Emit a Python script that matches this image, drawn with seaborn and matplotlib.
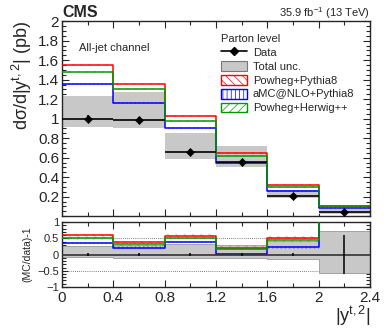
import numpy as np
import matplotlib
matplotlib.use("Agg")
import matplotlib.pyplot as plt
import seaborn as sns
from matplotlib.lines import Line2D
from matplotlib.patches import Patch
from matplotlib.ticker import MultipleLocator, FixedLocator

# bin edges in |y^{t,2}|
edges = [0.0, 0.4, 0.8, 1.2, 1.6, 2.0, 2.4]
x_ticks = [0, 0.4, 0.8, 1.2, 1.6, 2, 2.4]
x_tick_labels = ["0", "0.4", "0.8", "1.2", "1.6", "2", "2.4"]

# top panel: dsigma/d|y| (pb)
data = [1.00, 0.985, 0.66, 0.56, 0.21, 0.042]
data_err = [0.035, 0.035, 0.025, 0.02, 0.012, 0.006]
tot_up = [1.23, 1.27, 0.85, 0.715, 0.265, 0.075]
tot_dn = [0.91, 0.90, 0.59, 0.50, 0.185, 0.018]
powheg_py8 = [1.55, 1.36, 1.03, 0.65, 0.32, 0.105]
amc_py8 = [1.36, 1.16, 0.90, 0.55, 0.26, 0.085]
powheg_hw = [1.475, 1.30, 0.975, 0.62, 0.30, 0.10]

# bottom panel: (MC/data)-1
r_err = [0.035, 0.035, 0.04, 0.035, 0.05, 0.6]
r_tot_up = [0.25, 0.28, 0.33, 0.29, 0.43, 0.72]
r_tot_dn = [-0.08, -0.10, -0.10, -0.10, -0.15, -0.57]
r_powheg_py8 = [0.59, 0.38, 0.58, 0.21, 0.52, 1.3]
r_amc_py8 = [0.36, 0.21, 0.39, 0.02, 0.22, 1.3]
r_powheg_hw = [0.50, 0.31, 0.51, 0.18, 0.44, 1.3]

sns.set_style("ticks")
plt.rcParams["font.family"] = ["Liberation Sans", "DejaVu Sans"]
plt.rcParams["mathtext.fontset"] = "custom"
plt.rcParams["mathtext.rm"] = "Liberation Sans"
plt.rcParams["mathtext.it"] = "Liberation Sans:italic"

edges = np.array(edges)
centers = 0.5 * (edges[:-1] + edges[1:])

red, blue, green, grey = "#ff0000", "#0000ff", "#009900", "#c8c8c8"
models = [
    ("Powheg+Pythia8", powheg_py8, r_powheg_py8, red, "\\\\\\\\"),
    ("aMC@NLO+Pythia8", amc_py8, r_amc_py8, blue, "||||"),
    ("Powheg+Herwig++", powheg_hw, r_powheg_hw, green, "////"),
]

fig = plt.figure(figsize=(3.9, 3.31), dpi=100)
ax = fig.add_axes([0.159, 0.347, 0.79, 0.589])
rax = fig.add_axes([0.159, 0.133, 0.79, 0.196])


def ext(v):
    return np.append(v, v[-1])


def draw_panel(a, vals, err, up, dn, mods, ratio):
    # total uncertainty band
    a.fill_between(edges, ext(dn), ext(up), step="post", facecolor=grey,
                   edgecolor="#9a9a9a" if ratio else "none", lw=0.6, zorder=1)
    # model predictions
    for name, v, rv, col, hatch in mods:
        y = np.array(rv if ratio else v)
        w = 0.04 if ratio else 0.01
        a.fill_between(edges, ext(y - w), ext(y + w), step="post", facecolor="none",
                       edgecolor=col, hatch=hatch, lw=0, alpha=0.3, zorder=2)
        sns.lineplot(x=edges, y=ext(y), drawstyle="steps-post", color=col, lw=1.1,
                     estimator=None, sort=False, ax=a, zorder=3)
    # data
    a.hlines(vals, edges[:-1], edges[1:], color="black" if not ratio else "#333333",
             lw=1.2, zorder=4)
    a.errorbar(centers, vals, yerr=err, fmt="none", ecolor="black", elinewidth=1.1,
               capsize=0, zorder=5)


draw_panel(ax, data, data_err, tot_up, tot_dn, models, False)
sns.scatterplot(x=centers, y=data, marker="D", s=18, color="black", edgecolor="black",
                ax=ax, zorder=6)
draw_panel(rax, np.zeros(6), r_err, r_tot_up, r_tot_dn, models, True)
for yv in (0.5, -0.5):
    rax.axhline(yv, color="#555555", lw=0.6, ls=(0, (1, 1.5)), zorder=0.5)

for a in (ax, rax):
    a.set_xlim(0, 2.4)
    a.xaxis.set_major_locator(FixedLocator(x_ticks))
    a.xaxis.set_minor_locator(MultipleLocator(0.2))
    a.tick_params(which="both", direction="in", top=True, right=True, width=0.8)
    a.tick_params(which="major", length=5)
    a.tick_params(which="minor", length=3)
    for s in a.spines.values():
        s.set_linewidth(1.0)

ax.set_ylim(0, 2)
ax.yaxis.set_major_locator(FixedLocator([0.2, 0.4, 0.6, 0.8, 1.0, 1.2, 1.4, 1.6, 1.8, 2.0]))
ax.set_yticklabels(["0.2", "0.4", "0.6", "0.8", "1", "1.2", "1.4", "1.6", "1.8", "2"])
ax.yaxis.set_minor_locator(MultipleLocator(0.05))
ax.tick_params(axis="y", labelsize=11, pad=2)
ax.tick_params(axis="x", labelbottom=False)
ax.set_ylabel("dσ/d|y$^{\\mathregular{t,2}}$| (pb)", fontsize=13, loc="top", labelpad=3)

rax.set_ylim(-1, 1)
rax.yaxis.set_major_locator(FixedLocator([-1, -0.5, 0, 0.5, 1]))
rax.set_yticklabels(["−1", "−0.5", "0", "0.5", "1"])
rax.yaxis.set_minor_locator(MultipleLocator(0.1))
rax.tick_params(axis="y", labelsize=8, pad=2, length=4)
rax.tick_params(axis="x", labelsize=11, pad=3)
rax.set_xticklabels(x_tick_labels)
rax.set_ylabel("(MC/data)-1", fontsize=7.5, labelpad=4)
rax.set_xlabel("|y$^{\\mathregular{t,2}}$|", fontsize=13, loc="right", labelpad=-1)

fig.text(0.159, 0.962, "CMS", fontsize=11.5, fontweight="bold", ha="left", va="center")
fig.text(0.949, 0.960, "35.9 fb$^{\\mathregular{-1}}$ (13 TeV)", fontsize=8,
         ha="right", va="center")
ax.text(0.055, 0.86, "All-jet channel", fontsize=8, transform=ax.transAxes, va="center")

handles = [
    Line2D([], [], color="black", lw=1.2, marker="D", markersize=4),
    Patch(facecolor=grey, edgecolor="#777777", lw=0.8),
]
for name, v, rv, col, hatch in models:
    handles.append(Patch(facecolor="white", edgecolor=col, hatch=hatch, lw=1.0))
labels = ["Data", "Total unc.", "Powheg+Pythia8", "aMC@NLO+Pythia8", "Powheg+Herwig++"]
with plt.rc_context({"hatch.linewidth": 0.5}):
    leg = ax.legend(handles, labels, title="Parton level", loc="upper left",
                    bbox_to_anchor=(0.49, 0.975), frameon=False, fontsize=8,
                    title_fontsize=8, handlelength=2.4, handleheight=1.0,
                    labelspacing=0.28, handletextpad=0.5, borderpad=0.2)
leg._legend_box.align = "left"
for h, col in zip(leg.legend_handles[2:], [red, blue, green]):
    h.set_edgecolor(col)

fig.savefig("out.png", dpi=100)
